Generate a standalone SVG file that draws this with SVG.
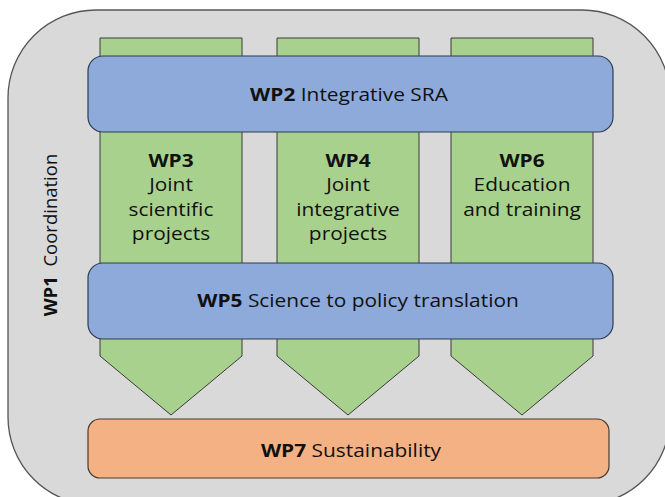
<svg xmlns="http://www.w3.org/2000/svg" width="665" height="497" viewBox="0 0 665 497">
  <style>
    .frame { fill: #d9d9d9; stroke: #555; stroke-width: 1.3; }
    .col { fill: #a9d18e; stroke: #3a3a3a; stroke-width: 1; }
    .bar { fill: #8eaadb; stroke: #2f3b52; stroke-width: 1.2; }
    .sus { fill: #f4b183; stroke: #4a3a30; stroke-width: 1.2; }
    text { font-family: "Open Sans", "DejaVu Sans", sans-serif; font-size: 18.5px; fill: #111; text-anchor: middle; }
    .b { font-weight: bold; }
  </style>

  <!-- WP1 frame -->
  <g id="wp1">
    <rect class="frame" x="8" y="10" width="662" height="495" rx="88" ry="88"/>
    <text transform="translate(57,235) rotate(-90)"><tspan class="b">WP1</tspan>&#160; Coordination</text>
  </g>

  <!-- vertical work-package arrows (labels slightly widened) -->
  <g id="wp3">
    <polygon class="col" points="100,38 242,38 242,356 171,415 100,356"/>
    <text transform="translate(171,167) scale(1.13,1)" class="b">WP3</text>
    <text transform="translate(171,191) scale(1.13,1)">Joint</text>
    <text transform="translate(171,216) scale(1.13,1)">scientific</text>
    <text transform="translate(171,240) scale(1.13,1)">projects</text>
  </g>
  <g id="wp4">
    <polygon class="col" points="277,38 419,38 419,356 348,415 277,356"/>
    <text transform="translate(348,167) scale(1.13,1)" class="b">WP4</text>
    <text transform="translate(348,191) scale(1.13,1)">Joint</text>
    <text transform="translate(348,216) scale(1.13,1)">integrative</text>
    <text transform="translate(348,240) scale(1.13,1)">projects</text>
  </g>
  <g id="wp6">
    <polygon class="col" points="451,38 593,38 593,356 522,415 451,356"/>
    <text transform="translate(522,167) scale(1.13,1)" class="b">WP6</text>
    <text transform="translate(522,191) scale(1.13,1)">Education</text>
    <text transform="translate(522,216) scale(1.13,1)">and training</text>
  </g>

  <!-- horizontal bars -->
  <g id="wp2">
    <rect class="bar" x="88" y="56" width="525" height="76" rx="15" ry="15"/>
    <text transform="translate(349,101) scale(1.13,1)"><tspan class="b">WP2</tspan> Integrative SRA</text>
  </g>
  <g id="wp5">
    <rect class="bar" x="88" y="263" width="525" height="76" rx="15" ry="15"/>
    <text transform="translate(358,307) scale(1.13,1)"><tspan class="b">WP5</tspan> Science to policy translation</text>
  </g>
  <g id="wp7">
    <rect class="sus" x="88" y="419" width="521" height="59" rx="12" ry="12"/>
    <text transform="translate(351,457) scale(1.13,1)"><tspan class="b">WP7</tspan> Sustainability</text>
  </g>

  <g id="connectors"/>
</svg>
